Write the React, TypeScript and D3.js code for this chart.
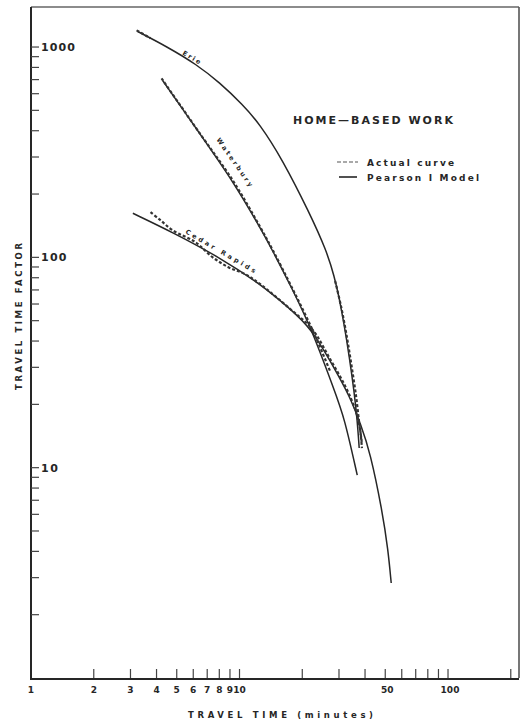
import React from 'react';
import * as d3 from 'd3';

const W = 523;
const H = 727;

// axis ticks
const xTickValues = [2, 3, 4, 5, 6, 7, 8, 9, 10, 20, 30, 40, 50, 60, 70, 80, 90, 100, 200];
const xTickLabels = [1, 2, 3, 4, 5, 6, 7, 8, 9, 10, 50, 100];
const yTickValues = [2, 3, 4, 5, 6, 7, 8, 9, 10, 20, 30, 40, 50, 60, 70, 80, 90, 100, 200, 300, 400, 500, 600, 700, 800, 900, 1000];
const yTickLabels = [10, 100, 1000];

// Pearson I model curves [travel time (min), travel time factor]
const erieModel: [number, number][] = [
  [3.25, 1185], [4.47, 1006], [6.23, 826], [8.02, 678], [10.34, 533], [12.46, 433],
  [16.06, 292], [21.6, 163.6], [26.1, 108], [28.5, 81.2], [30.1, 63.9], [31.8, 47.5],
  [33.6, 33.9], [35.5, 22.8], [36.7, 16.8], [37.5, 12.4],
];
const waterburyModel: [number, number][] = [
  [4.28, 693], [6.44, 388], [9.26, 232], [12.46, 140.4], [14.39, 108], [17.74, 72.0],
  [22.1, 46.0], [28.5, 23.3], [31.8, 17.4], [36.7, 9.21],
];
const cedarModel: [number, number][] = [
  [3.08, 162], [4.78, 131.5], [8.02, 100], [12.46, 75.2], [17.35, 57.3], [22.1, 46.0],
  [28.5, 29.7], [33.6, 22.1], [38.3, 15.9], [42.3, 11.85], [48.3, 6.28], [51.6, 4.06], [53.4, 2.83],
];

// Actual curves
const erieActualHead: [number, number][] = [[3.18, 1211], [3.71, 1110]];
const erieActualTail: [number, number][] = [
  [28.5, 77.8], [30.4, 59.2], [32.2, 44.0], [34.0, 31.7], [35.9, 22.1], [37.1, 16.8], [38.3, 13.2],
];
const waterburyActual: [number, number][] = [
  [4.19, 716], [6.44, 388], [9.26, 232], [12.46, 140.4], [14.39, 108], [17.74, 72.0],
  [22.1, 46.0], [26.96, 29.0],
];
const cedarActual: [number, number][] = [
  [3.71, 165.4], [4.14, 151.5], [4.73, 135.8], [6.09, 119.1], [7.35, 101.1], [8.76, 90.6],
  [10.56, 83.9], [12.46, 75.2], [17.35, 57.3], [22.1, 46.0], [26.96, 33.1], [31.8, 24.7],
  [35.5, 19.2], [37.5, 15.4], [38.3, 12.5],
];

// curve name labels: [name, t, F, angle, length]
const curveLabels: [string, number, number, number, number][] = [
  ['Erie', 5.89, 891, 31, 20],
  ['Waterbury', 9.46, 283, 55, 58],
  ['Cedar Rapids', 8.11, 106.8, 30, 80],
];

const FONT = '"DejaVu Sans", Verdana, sans-serif';
const INK = '#262626';

export default function App() {
  const x = d3.scaleLog().domain([1, 219]).range([31, 519]);
  const y = d3.scaleLog().domain([1, 1550]).range([678, 7]);
  const modelLine = d3
    .line<[number, number]>()
    .x((d) => x(d[0]))
    .y((d) => y(d[1]))
    .curve(d3.curveBasis);
  const actualLine = d3
    .line<[number, number]>()
    .x((d) => x(d[0]))
    .y((d) => y(d[1]))
    .curve(d3.curveCatmullRom.alpha(0.5));

  const x0 = x(1);
  const y0 = y(1);
  const xr = x(219);
  const yt = y(1550);

  return (
    <svg
      width={W}
      height={H}
      style={{ position: 'absolute', left: 0, top: 0, background: '#fff' }}
      fontFamily={FONT}
    >
      <rect x={0} y={0} width={W} height={H} fill="#fff" />
      {/* frame */}
      <line x1={x0} y1={yt} x2={xr} y2={yt} stroke="#666" strokeWidth={1.4} />
      <line x1={xr} y1={yt} x2={xr} y2={y0} stroke="#555" strokeWidth={1.6} />
      <line x1={x0} y1={yt} x2={x0} y2={y0 + 1} stroke={INK} strokeWidth={2} />
      <line x1={x0 - 1} y1={y0 + 1} x2={xr} y2={y0 + 1} stroke={INK} strokeWidth={2} />

      {/* y ticks */}
      {yTickValues.map((v) => (
        <line key={'yt' + v} x1={x0} x2={x0 + 8} y1={y(v)} y2={y(v)} stroke="#444" strokeWidth={1.2} />
      ))}
      {yTickLabels.map((v) => (
        <text
          key={'yl' + v}
          x={x0 + 10}
          y={y(v) + 4}
          fontSize={11}
          fontWeight="bold"
          fill={INK}
          textLength={String(v).length * 8.5}
          lengthAdjust="spacing"
        >
          {v}
        </text>
      ))}

      {/* x ticks */}
      {xTickValues.map((v) => (
        <line key={'xt' + v} x1={x(v)} x2={x(v)} y1={y0} y2={y0 - 9} stroke="#444" strokeWidth={1.2} />
      ))}
      {xTickLabels.map((v) => (
        <text
          key={'xl' + v}
          x={x(v) + (v >= 50 ? 2 : 0)}
          y={y0 + 15}
          fontSize={9}
          fontWeight="bold"
          fill={INK}
          textAnchor="middle"
        >
          {v}
        </text>
      ))}

      {/* axis titles */}
      <text
        x={188}
        y={718}
        fontSize={8.5}
        fontWeight="bold"
        fill={INK}
        textLength={185}
        lengthAdjust="spacing"
      >
        TRAVEL TIME (minutes)
      </text>
      <text
        transform="translate(22,390) rotate(-90)"
        x={0}
        y={0}
        fontSize={8.5}
        fontWeight="bold"
        fill={INK}
        textLength={147}
        lengthAdjust="spacing"
      >
        TRAVEL TIME FACTOR
      </text>

      {/* title and legend */}
      <text x={293} y={124} fontSize={11} fontWeight="bold" fill={INK} textLength={160} lengthAdjust="spacing">
        HOME—BASED WORK
      </text>
      <line x1={337} x2={358} y1={162} y2={162} stroke="#555" strokeWidth={1.2} strokeDasharray="4,2" />
      <text x={367} y={165.5} fontSize={9} fontWeight="bold" fill={INK} textLength={87} lengthAdjust="spacing">
        Actual curve
      </text>
      <line x1={339} x2={357} y1={177} y2={177} stroke={INK} strokeWidth={1.6} />
      <text x={367} y={180.5} fontSize={9} fontWeight="bold" fill={INK} textLength={112} lengthAdjust="spacing">
        Pearson I Model
      </text>

      {/* model curves */}
      {[erieModel, waterburyModel, cedarModel].map((d, i) => (
        <path key={'m' + i} d={modelLine(d) || ''} fill="none" stroke={INK} strokeWidth={1.5} />
      ))}
      {/* actual curves */}
      {[erieActualHead, erieActualTail, waterburyActual, cedarActual].map((d, i) => (
        <path
          key={'a' + i}
          d={actualLine(d) || ''}
          fill="none"
          stroke="#333"
          strokeWidth={2.2}
          strokeDasharray="3,2"
          transform="translate(0.8,0.8)"
        />
      ))}

      {/* curve labels */}
      {curveLabels.map(([name, t, f, ang, len]) => (
        <text
          key={name}
          transform={`translate(${x(t)},${y(f)}) rotate(${ang})`}
          x={-len / 2}
          y={2}
          fontSize={6.5}
          fontWeight="bold"
          fill={INK}
          textLength={len}
          lengthAdjust="spacing"
        >
          {name}
        </text>
      ))}
    </svg>
  );
}
